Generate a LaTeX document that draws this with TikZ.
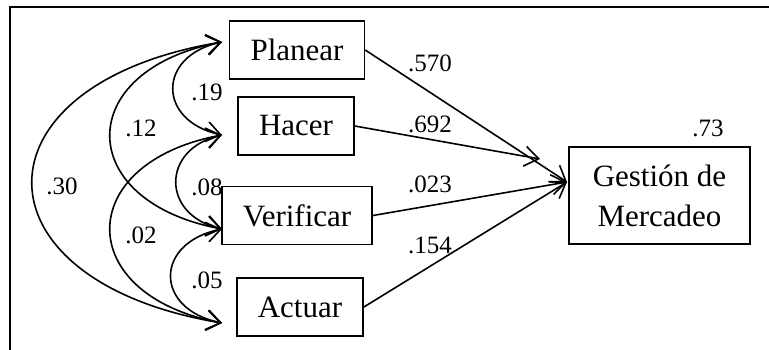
\documentclass[tikz,border=0pt]{standalone}
\usepackage{fontspec}
\setmainfont{Liberation Serif}
\usetikzlibrary{arrows.meta}

\begin{document}
\begin{tikzpicture}[x=1pt,y=-1pt,
  var/.style={draw,line width=1.5pt,inner xsep=21pt,minimum height=58pt,font=\fontsize{31}{40}\selectfont},
  coef/.style={font=\fontsize{25}{27}\selectfont},
  cov/.style={line width=1.6pt,{Straight Barb[length=14pt,width=20pt]}-{Straight Barb[length=14pt,width=20pt]}},
  reg/.style={line width=1.6pt,-{Straight Barb[length=14pt,width=20pt]}}]
\useasboundingbox (0,0) rectangle (769,350);
\draw[line width=1.5pt] (769,7) -| (10,350);
% variables
\node[var] (P) at (297,50) {Planear};
\node[var] (H) at (296,126) {Hacer};
\node[var] (V) at (297,215.5) {Verificar};
\node[var] (A) at (300,307) {Actuar};
\node[var,align=center,inner xsep=24pt,minimum height=97pt] (G) at (659.5,195.5) {Gestión de\\Mercadeo};
% arc ends
\coordinate (cP) at (222,42);
\coordinate (cH) at (222,135);
\coordinate (cV) at (222,229);
\coordinate (cA) at (222,323);
\coordinate (gIn) at (567,182);
\coordinate (hTip) at (540,159);
% correlations
\draw[cov] (cP) .. controls +(-65,14) and +(-65,-14) .. (cH);
\draw[cov] (cH) .. controls +(-61,14) and +(-61,-14) .. (cV);
\draw[cov] (cV) .. controls +(-68,14) and +(-68,-14) .. (cA);
\draw[cov] (cP) .. controls +(-149,28) and +(-149,-28) .. (cV);
\draw[cov] (cH) .. controls +(-149,28) and +(-149,-28) .. (cA);
\draw[cov] (cP) .. controls +(-253,42) and +(-253,-42) .. (cA);
\node[coef] at (207,92) {.19};
\node[coef] at (207,187) {.08};
\node[coef] at (207,280) {.05};
\node[coef] at (141,128) {.12};
\node[coef] at (141,235) {.02};
\node[coef] at (62,186) {.30};
% paths
\draw[reg] (P.east) -- (gIn);
\draw[reg] (H.east) -- (hTip);
\draw[reg] (V.east) -- (gIn);
\draw[reg] (A.east) -- (gIn);
\node[coef] at (430,63) {.570};
\node[coef] at (430,124) {.692};
\node[coef] at (430,184) {.023};
\node[coef] at (430,245) {.154};
\node[coef] at (708,128) {.73};
\end{tikzpicture}
\end{document}
